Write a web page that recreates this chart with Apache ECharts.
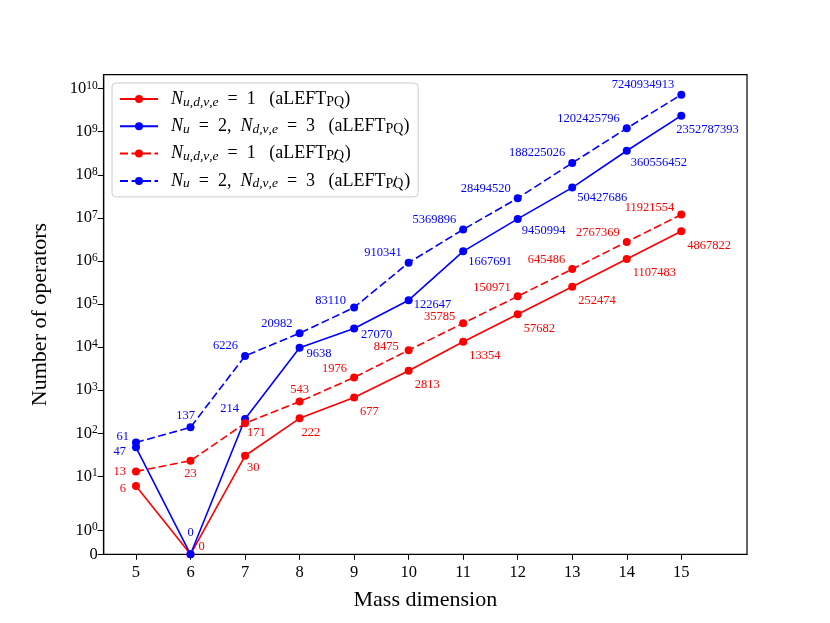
<!DOCTYPE html>
<html>
<head>
<meta charset="utf-8">
<script src="https://cdn.jsdelivr.net/npm/echarts@6/dist/echarts.min.js"></script>
<style>
  html, body { margin: 0; padding: 0; background: #fff; }
  #chart { width: 830px; height: 623px; }
</style>
</head>
<body>
<div id="chart"></div>
<script>
// mass dimension on x, operator counts on y
var massDims = [5, 6, 7, 8, 9, 10, 11, 12, 13, 14, 15];
var pqOneFlavour = [6, 0, 30, 222, 677, 2813, 13354, 57682, 252474, 1107483, 4867822];
var pqThreeFlavour = [47, 0, 214, 9638, 27070, 122647, 1667691, 9450994, 50427686, 360556452, 2352787393];
var npqOneFlavour = [13, 23, 171, 543, 1976, 8475, 35785, 150971, 645486, 2767369, 11921554];
var npqThreeFlavour = [61, 137, 6226, 20982, 83110, 910341, 5369896, 28494520, 188225026, 1202425796, 7240934913];
var xTickValues = [5, 6, 7, 8, 9, 10, 11, 12, 13, 14, 15];
var yTickValues = [0, 1, 10, 100, 1e3, 1e4, 1e5, 1e6, 1e7, 1e8, 1e9, 1e10];

var SERIF = 'Liberation Serif';
var RED = '#ff0000', BLUE = '#0000ff';

// symlog scale like matplotlib (linthresh 2, linscale 1), in decades
var LINTHRESH = 2, LINSCALE = 1 / (1 - 1 / 10);
function symlog(v) {
  return v <= LINTHRESH ? v * LINSCALE / LINTHRESH : LINSCALE + Math.log10(v / LINTHRESH);
}

function yTickLabel(val) {
  for (var i = 0; i < yTickValues.length; i++) {
    if (Math.abs(symlog(yTickValues[i]) - val) < 1e-6) {
      var t = yTickValues[i];
      if (t === 0) return '{b|0}';
      return '{b|10}{s|' + Math.round(Math.log10(t)) + '}';
    }
  }
  return '';
}

// the "sl" token is pulled back over the PQ subscript to strike it out
var legendText = {
  'pq1': '{it|N}{sbi|u,d,ν,e}{t|  =  1   (aLEFT}{sb|PQ}{t|)}',
  'pq3': '{it|N}{sbi|u}{t|  =  2,  }{it|N}{sbi|d,ν,e}{t|  =  3   (aLEFT}{sb|PQ}{t|)}',
  'npq1': '{it|N}{sbi|u,d,ν,e}{t|  =  1   (aLEFT}{sb|PQ}{sl|/}{t|)}',
  'npq3': '{it|N}{sbi|u}{t|  =  2,  }{it|N}{sbi|d,ν,e}{t|  =  3   (aLEFT}{sb|PQ}{sl|/}{t|)}'
};

function makeSeries(name, values, color, dashed, align, offset, overrides) {
  return {
    name: name,
    type: 'line',
    data: values.map(function (v, i) {
      var item = { value: [massDims[i], symlog(v)], raw: v };
      if (overrides[i]) item.label = overrides[i];
      return item;
    }),
    symbol: 'circle',
    symbolSize: 8,
    clip: false,
    color: color,
    itemStyle: { color: color },
    lineStyle: { color: color, width: 1.6, type: dashed ? [8, 3.5] : 'solid' },
    label: {
      show: true,
      position: 'inside',
      align: align,
      verticalAlign: 'middle',
      offset: offset,
      color: color,
      fontFamily: SERIF,
      fontSize: 12.5,
      formatter: function (p) { return String(p.data.raw); }
    },
    emphasis: { disabled: true }
  };
}

var chart = echarts.init(document.getElementById('chart'), null, { renderer: 'canvas' });

chart.setOption({
  animation: false,
  backgroundColor: '#fff',
  grid: {
    left: 103.7, right: 83, top: 74.7, bottom: 68.7,
    show: true, borderColor: '#000', borderWidth: 1.2, containLabel: false
  },
  legend: {
    orient: 'vertical',
    left: 112, top: 83,
    padding: [6, 8, 6, 7],
    itemWidth: 38, itemHeight: 10, itemGap: 7.3,
    backgroundColor: 'rgba(255,255,255,0.8)',
    borderColor: '#cccccc', borderWidth: 1, borderRadius: 4,
    data: ['pq1', 'pq3', 'npq1', 'npq3'],
    formatter: function (name) { return legendText[name]; },
    textStyle: {
      fontFamily: SERIF, fontSize: 18, color: '#000', lineHeight: 20,
      padding: [0, 0, 0, 8],
      rich: {
        it: { fontFamily: SERIF, fontStyle: 'italic', fontSize: 18, lineHeight: 20 },
        t: { fontFamily: SERIF, fontSize: 18, lineHeight: 20 },
        sbi: { fontFamily: SERIF, fontStyle: 'italic', fontSize: 13.5, lineHeight: 12, verticalAlign: 'bottom' },
        sb: { fontFamily: SERIF, fontSize: 14, lineHeight: 12, verticalAlign: 'bottom' },
        sl: { fontFamily: SERIF, fontSize: 17, lineHeight: 14, verticalAlign: 'bottom', padding: [0, 7, 0, -11] }
      }
    }
  },
  xAxis: {
    type: 'value',
    min: 4.408, max: 16.205,
    name: 'Mass dimension',
    nameLocation: 'middle',
    nameGap: 35,
    nameTextStyle: { fontFamily: SERIF, fontSize: 22, color: '#000' },
    axisLine: { show: true, lineStyle: { color: '#000', width: 1.2 } },
    axisTick: { show: true, inside: false, length: 5.5, customValues: xTickValues, lineStyle: { color: '#000', width: 1 } },
    axisLabel: {
      customValues: xTickValues, margin: 10,
      fontFamily: SERIF, fontSize: 16.5, color: '#000',
      formatter: function (v) { return String(v); }
    },
    splitLine: { show: false }
  },
  yAxis: {
    type: 'value',
    min: 0, max: 11.133,
    name: 'Number of operators',
    nameLocation: 'middle',
    nameGap: 52,
    nameTextStyle: { fontFamily: SERIF, fontSize: 22, color: '#000' },
    axisLine: { show: true, lineStyle: { color: '#000', width: 1.2 } },
    axisTick: { show: true, inside: false, length: 6, customValues: yTickValues.map(symlog), lineStyle: { color: '#000', width: 1 } },
    axisLabel: {
      customValues: yTickValues.map(symlog), margin: 6,
      formatter: yTickLabel,
      rich: {
        b: { fontFamily: SERIF, fontSize: 16.5, color: '#000', lineHeight: 18 },
        s: { fontFamily: SERIF, fontSize: 11.5, color: '#000', lineHeight: 9, verticalAlign: 'top' }
      }
    },
    splitLine: { show: false }
  },
  series: [
    makeSeries('pq1', pqOneFlavour, RED, false, 'left', [6, 14], {
      0: { align: 'right', offset: [-10, 3] },
      1: { align: 'left', offset: [8, -8] },
      2: { offset: [2, 12] },
      3: { offset: [2, 14] }
    }),
    makeSeries('pq3', pqThreeFlavour, BLUE, false, 'left', [5, 10], {
      0: { align: 'right', offset: [-10, 4] },
      1: { align: 'center', offset: [0, -22] },
      2: { align: 'right', offset: [-6, -10] },
      3: { offset: [7, 6] },
      4: { offset: [7, 6] },
      5: { offset: [5, 5] },
      7: { offset: [4, 12] },
      9: { offset: [4, 12] },
      10: { offset: [-5, 14] }
    }),
    makeSeries('npq1', npqOneFlavour, RED, true, 'right', [-7, -9], {
      0: { align: 'right', offset: [-10, 0] },
      1: { align: 'center', offset: [0, 13] },
      2: { align: 'left', offset: [2, 10] },
      3: { align: 'center', offset: [0, -12] },
      5: { offset: [-10, -3] },
      6: { offset: [-8, -7] },
      10: { offset: [-7, -7] }
    }),
    makeSeries('npq3', npqThreeFlavour, BLUE, true, 'right', [-7, -10], {
      0: { align: 'right', offset: [-7, -6] },
      1: { align: 'center', offset: [-5, -12] },
      4: { offset: [-8, -7] }
    })
  ]
});
</script>
</body>
</html>
